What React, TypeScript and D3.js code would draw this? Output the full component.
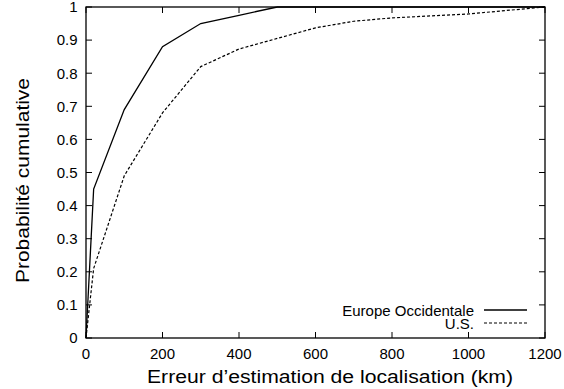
import React from "react";
import * as d3 from "d3";

const xTicks = [0, 200, 400, 600, 800, 1000, 1200];
const yTicks = [0, 0.1, 0.2, 0.3, 0.4, 0.5, 0.6, 0.7, 0.8, 0.9, 1];

const europeX = [0, 20, 100, 200, 300, 400, 500, 1200];
const europeY = [0, 0.45, 0.69, 0.88, 0.95, 0.975, 1, 1];

const usX = [0, 20, 100, 200, 300, 400, 500, 600, 700, 800, 1000, 1200];
const usY = [0, 0.21, 0.49, 0.68, 0.82, 0.873, 0.905, 0.937, 0.957, 0.967, 0.979, 1];

const seriesNames = ["Europe Occidentale", "U.S."];

const W = 564;
const H = 389;
const L = 86, R = 545, T = 7, B = 338;
const FONT = "'Liberation Sans', Arial, Helvetica, sans-serif";

export default function App() {
  const x = d3.scaleLinear().domain([0, 1200]).range([L, R]);
  const y = d3.scaleLinear().domain([0, 1]).range([B, T]);
  const line = d3.line<[number, number]>().x((d) => x(d[0])).y((d) => y(d[1]));
  const eu = europeX.map((v, i) => [v, europeY[i]] as [number, number]);
  const us = usX.map((v, i) => [v, usY[i]] as [number, number]);
  const tl = 6;
  return (
    <svg width={W} height={H} style={{ position: "absolute", left: 0, top: 0, background: "#fff" }}>
      <rect x={0} y={0} width={W} height={H} fill="#fff" />
      {yTicks.map((t) => (
        <g key={"y" + t}>
          <line x1={L} x2={L + tl} y1={y(t)} y2={y(t)} stroke="#000" />
          <line x1={R} x2={R - tl} y1={y(t)} y2={y(t)} stroke="#000" />
          <text x={77.5} y={y(t) + 5.3} textAnchor="end" fontFamily={FONT} fontSize={15}>
            {String(t)}
          </text>
        </g>
      ))}
      {xTicks.map((t) => (
        <g key={"x" + t}>
          <line x1={x(t)} x2={x(t)} y1={B} y2={B - tl} stroke="#000" />
          <line x1={x(t)} x2={x(t)} y1={T} y2={T + tl} stroke="#000" />
          <text x={x(t)} y={359.3} textAnchor="middle" fontFamily={FONT} fontSize={15}>
            {String(t)}
          </text>
        </g>
      ))}
      <path d={line(eu) || ""} fill="none" stroke="#000" strokeWidth={1.3} />
      <path d={line(us) || ""} fill="none" stroke="#000" strokeWidth={1.2} strokeDasharray="3,2" />
      <rect x={L} y={T} width={R - L} height={B - T} fill="none" stroke="#000" strokeWidth={1.3} />
      <text x={474} y={316} textAnchor="end" fontFamily={FONT} fontSize={15}>{seriesNames[0]}</text>
      <line x1={484} x2={527} y1={310} y2={310} stroke="#000" strokeWidth={1.3} />
      <text x={474} y={329.3} textAnchor="end" fontFamily={FONT} fontSize={15}>{seriesNames[1]}</text>
      <line x1={484} x2={527} y1={323} y2={323} stroke="#000" strokeWidth={1.2} strokeDasharray="3,2" />
      <text
        x={147}
        y={383.3}
        fontFamily={FONT}
        fontSize={17.5}
        textLength={366}
        lengthAdjust="spacingAndGlyphs"
      >
        Erreur d’estimation de localisation (km)
      </text>
      <text
        transform={`translate(29, 283) rotate(-90)`}
        fontFamily={FONT}
        fontSize={17.5}
        textLength={205}
        lengthAdjust="spacingAndGlyphs"
      >
        Probabilité cumulative
      </text>
    </svg>
  );
}
